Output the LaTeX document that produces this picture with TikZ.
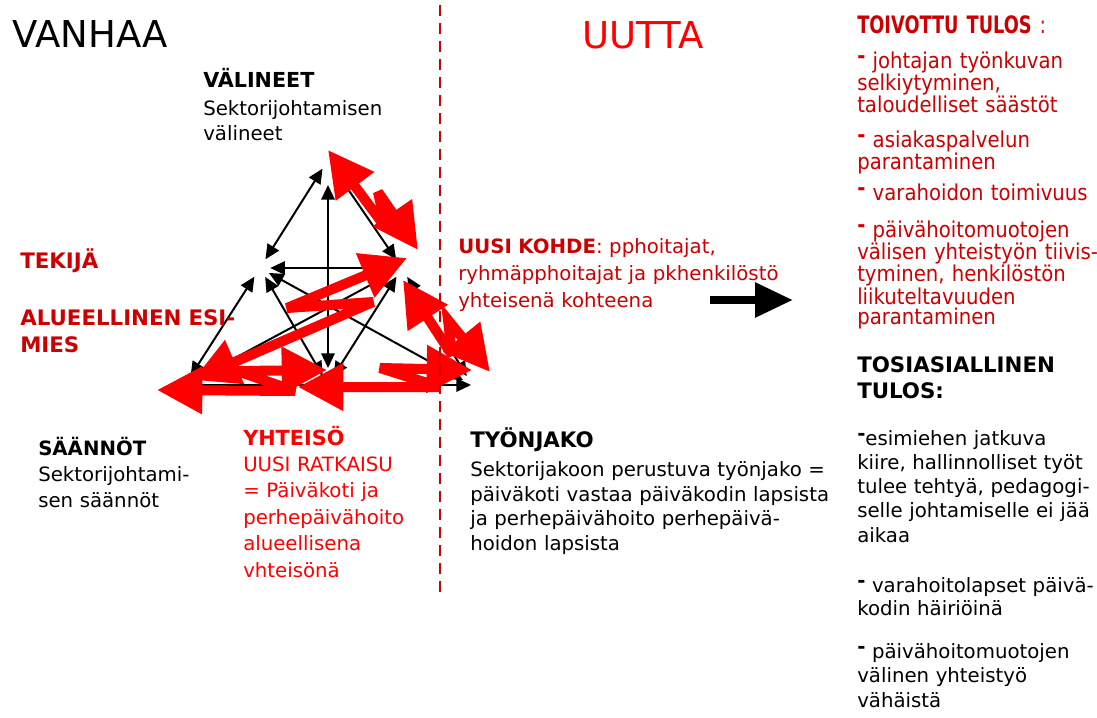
\documentclass[tikz,border=0pt]{standalone}
\usepackage{fontspec}
\setmainfont{DejaVu Sans}
\newfontfamily\kapea[FakeStretch=0.9]{DejaVu Sans}
\newfontfamily\kapeampi[FakeStretch=0.74]{DejaVu Sans}
\usetikzlibrary{arrows.meta, positioning}
\definecolor{darkred}{RGB}{204,0,0}
\definecolor{brightred}{RGB}{255,0,0}
\newcommand{\viiva}{\raisebox{0.22em}{\textbf{-}}}

\begin{document}
\begin{tikzpicture}[x=0.75pt, y=-0.75pt,
		teksti/.style={anchor=base west, inner sep=0pt, align=left, text width=300pt, font=\fontsize{14.8}{18.4}\selectfont},
		otsikko/.style={anchor=base west, inner sep=0pt, font=\fontsize{27.75}{30}\selectfont},
		kulma/.style={circle, inner sep=0pt, minimum size=15pt},
		nuoli/.style={line width=1.5pt, {Triangle[length=11pt,width=10pt]}-{Triangle[length=11pt,width=10pt]}},
		yksi/.style={line width=1.5pt, -{Triangle[length=11pt,width=10pt]}},
		salama/.style={draw=brightred, line width=7.5pt, miter limit=4, {Triangle[length=34pt,width=34pt]}-{Triangle[length=34pt,width=34pt]}}]
		\useasboundingbox (0,0) rectangle (1097,718);

		% Titles
		\node[otsikko] (vanhaa) at (12,47) {VANHAA};
		\node[otsikko, text=brightred] (uutta) at (582,48) {UUTTA};

		% Corners of the triangle
		\node[kulma] (V) at (328,160) {};
		\node[kulma] (S) at (260,268) {};
		\node[kulma] (O) at (402,268) {};
		\node[kulma] (R) at (185,385) {};
		\node[kulma] (C) at (328,385) {};
		\node[kulma] (D) at (472,385) {};

		% Black arrows
		\draw[nuoli] (V) -- (S);
		\draw[nuoli] (V) -- (O);
		\draw[nuoli, shorten <=11pt, shorten >=5pt] (V) -- (C);
		\draw[yksi] (O) -- (S);
		\draw[nuoli] (S) -- (R);
		\draw[nuoli] (S) -- (C);
		\draw[nuoli] (S) -- (D);
		\draw[nuoli] (O) -- (R);
		\draw[nuoli] (O) -- (C);
		\draw[nuoli] (O) -- (D);
		\draw[yksi, shorten >=-7pt] (R) -- (D);

		% Red zigzag arrows
		\draw[salama] (328,150) -- (386,228) -- (378,192) -- (418,250); % V - O
		\draw[salama] (193,380) -- (373,302) -- (287,308) -- (407,258); % R - O
		\draw[salama] (157,390) -- (295,391) -- (237,371) -- (327,370); % R - C
		\draw[salama] (298,387) -- (440,387) -- (380,368) -- (472,370); % C - D
		\draw[salama] (403,280) -- (452,355) -- (448,320) -- (490,372); % O - D

		% Dashed divider
		\draw[darkred, line width=1.5pt, dash pattern=on 8.25pt off 5.25pt] (440,5) -- (440,592);

		% Big black arrow
		\coordinate (nuoliA) at (710,300);
		\coordinate (nuoliB) at (793,300);
		\draw[line width=6pt, -{Triangle[length=28.5pt,width=25pt]}] (nuoliA) -- (nuoliB);

		% Labels of the old system
		\node[teksti, font=\fontsize{14.8}{19}\selectfont] (valineet) at (203,87) {\textbf{\fontsize{15.5}{19}\selectfont VÄLINEET}\\[2pt]Sektorijohtamisen\\välineet};
		\node[teksti, text=darkred, font=\fontsize{16}{20}\selectfont] (tekija) at (20,268) {\textbf{TEKIJÄ}};
		\node[teksti, text=darkred, font=\fontsize{16}{20.25}\selectfont] (esimies) at (20,325) {\textbf{ALUEELLINEN ESI-}\\\textbf{MIES}};
		\node[teksti, font=\fontsize{14.8}{19.7}\selectfont] (saannot) at (38,455) {\textbf{SÄÄNNÖT}\\Sektorijohtami-\\sen säännöt};
		\node[teksti, text=brightred, font=\fontsize{14.8}{19.8}\selectfont] (yhteiso) at (243,445) {\textbf{\fontsize{15.6}{19.8}\selectfont YHTEISÖ}\\UUSI RATKAISU\\= Päiväkoti ja\\perhepäivähoito\\alueellisena\\vhteisönä};
		\node[teksti] (tyonjako) at (470,447) {\textbf{\fontsize{16}{18.4}\selectfont TYÖNJAKO}\\[4pt]Sektorijakoon perustuva työnjako =\\päiväkoti vastaa päiväkodin lapsista\\ja perhepäivähoito perhepäivä-\\hoidon lapsista};
		\node[teksti, text=darkred, font=\fontsize{14.8}{20.5}\selectfont] (kohde) at (458,253) {\textbf{UUSI KOHDE}: pphoitajat,\\ryhmäpphoitajat ja pkhenkilöstö\\yhteisenä kohteena};

		% Hoped-for result
		\node[teksti, text=darkred, font=\kapeampi\fontsize{18}{20}\selectfont] (toivottu) at (857,33) {\textbf{TOIVOTTU TULOS} :};
		\node[teksti, text=darkred, font=\kapea\fontsize{16.4}{15.5}\selectfont] (tavoite1) at (857,68) {\viiva{} johtajan työnkuvan\\selkiytyminen,\\taloudelliset säästöt};
		\node[teksti, text=darkred, font=\kapea\fontsize{16.4}{14}\selectfont] (tavoite2) at (857,147) {\viiva{} asiakaspalvelun\\parantaminen};
		\node[teksti, text=darkred, font=\kapea\fontsize{16.4}{15}\selectfont] (tavoite3) at (857,200) {\viiva{} varahoidon toimivuus};
		\node[teksti, text=darkred, font=\kapea\fontsize{16.4}{15}\selectfont] (tavoite4) at (857,237) {\viiva{} päivähoitomuotojen\\välisen yhteistyön tiivis-\\tyminen, henkilöstön\\liikuteltavuuden\\parantaminen};

		% Actual result
		\node[teksti, font=\fontsize{16}{19.5}\selectfont] (tosi) at (857,372) {\textbf{TOSIASIALLINEN}\\\textbf{TULOS:}};
		\node[teksti, font=\fontsize{14.8}{18.2}\selectfont] (tulos1) at (857,445) {\viiva esimiehen jatkuva\\kiire, hallinnolliset työt\\tulee tehtyä, pedagogi-\\selle johtamiselle ei jää\\aikaa};
		\node[teksti, font=\fontsize{14.8}{17.5}\selectfont] (tulos2) at (857,592) {\viiva{} varahoitolapset päivä-\\kodin häiriöinä};
		\node[teksti, font=\fontsize{14.8}{18.4}\selectfont] (tulos3) at (857,658) {\viiva{} päivähoitomuotojen\\välinen yhteistyö\\vähäistä};
	\end{tikzpicture}
\end{document}
